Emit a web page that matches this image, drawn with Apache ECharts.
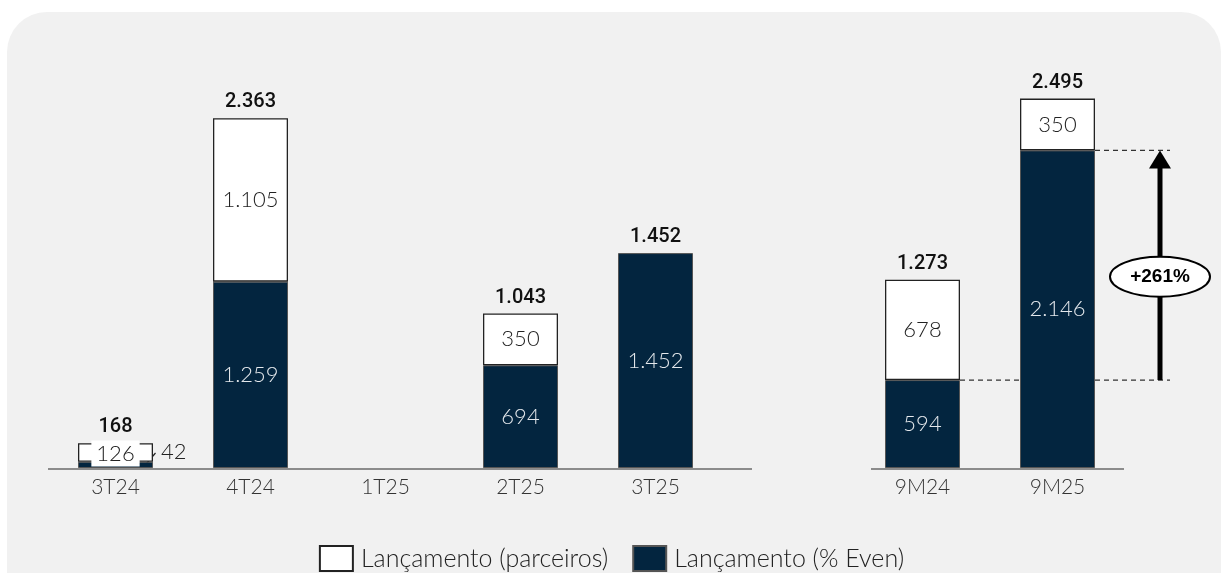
<!DOCTYPE html>
<html>
<head>
<meta charset="utf-8">
<script src="https://cdn.jsdelivr.net/npm/echarts@6/dist/echarts.min.js"></script>
<style>
html,body{margin:0;padding:0;background:#fff;}
#c{width:1223px;height:573px;}
</style>
</head>
<body>
<div id="c"></div>
<script>
// ---- data ----
const categoriesQ = ['3T24', '4T24', '1T25', '2T25', '3T25'];
const evenQ = [42, 1259, null, 694, 1452];
const parceirosQ = [126, 1105, null, 350, 0];
const totalQ = [168, 2363, null, 1043, 1452];

const categoriesY = ['9M24', '9M25'];
const evenY = [594, 2146];
const parceirosY = [678, 350];
const totalY = [1273, 2495];

const growthLabel = '+261%';
const seriesNames = ['Lançamento (parceiros)', 'Lançamento (% Even)'];

// ---- style ----
const NAVY = '#03253f';
const fmt = v => (v == null ? '' : Math.round(v).toString().replace(/\B(?=(\d{3})+(?!\d))/g, '.'));
const lightFont = 'Lato';
const BW = 75;

const chart = echarts.init(document.getElementById('c'));

function darkData(arr, isQ) {
  return arr.map((v, i) => {
    if (v == null) return '-';
    if (isQ && i === 0) {
      return { value: v, label: { show: true, position: 'right', distance: 8, offset: [0, -13], color: '#222', fontSize: 22 } };
    }
    return v;
  });
}
function whiteData(arr, isQ) {
  return arr.map((v, i) => {
    if (v == null) return '-';
    if (v === 0) return { value: 0, itemStyle: { borderWidth: 0 }, label: { show: false } };
    if (isQ && i === 0) {
      return { value: v, label: { show: true, position: 'inside', backgroundColor: '#fff', padding: [3, 5, 1, 5], offset: [0, 1] } };
    }
    return v;
  });
}

function mkSeries(idx, even, parc, total, isQ) {
  return [
    {
      name: seriesNames[1], type: 'bar', stack: 's' + idx, xAxisIndex: idx, yAxisIndex: idx,
      barWidth: BW, barGap: '-100%',
      itemStyle: { color: NAVY, borderColor: '#555', borderWidth: 1 },
      label: { show: true, position: 'inside', color: '#e4e8ec', fontSize: 22, fontFamily: lightFont, fontWeight: 300, formatter: p => fmt(p.value) },
      data: darkData(even, isQ), silent: true
    },
    {
      name: seriesNames[0], type: 'bar', stack: 's' + idx, xAxisIndex: idx, yAxisIndex: idx,
      barWidth: BW, barGap: '-100%',
      itemStyle: { color: '#ffffff', borderColor: '#222', borderWidth: 1.3 },
      label: { show: true, position: 'inside', color: '#222', fontSize: 22, fontFamily: lightFont, fontWeight: 300, formatter: p => fmt(p.value) },
      data: whiteData(parc, isQ), silent: true
    },
    {
      name: 'Total', type: 'bar', xAxisIndex: idx, yAxisIndex: idx,
      barWidth: BW, barGap: '-100%', z: 1,
      itemStyle: { color: 'rgba(0,0,0,0)', borderWidth: 0 },
      label: { show: true, position: 'top', distance: 6, color: '#111', fontSize: 20, fontFamily: 'Roboto', fontWeight: 500, formatter: p => fmt(p.value) },
      data: total.map(v => v == null ? '-' : v), silent: true
    }
  ];
}

const axisLabelStyle = { color: '#333', fontSize: 21, fontFamily: lightFont, fontWeight: 300, margin: 9 };

const option = {
  backgroundColor: '#ffffff',
  animation: false,
  grid: [
    { left: 48, width: 675, top: 24, bottom: 105 },
    { left: 855, width: 270, top: 24, bottom: 105 }
  ],
  xAxis: [
    { type: 'category', gridIndex: 0, data: categoriesQ, axisLine: { show: false }, axisTick: { show: false }, axisLabel: axisLabelStyle },
    { type: 'category', gridIndex: 1, data: categoriesY, axisLine: { show: false }, axisTick: { show: false }, axisLabel: axisLabelStyle }
  ],
  yAxis: [
    { type: 'value', gridIndex: 0, min: 0, max: 3000, show: false },
    { type: 'value', gridIndex: 1, min: 0, max: 3000, show: false }
  ],
  legend: {
    data: [seriesNames[0], seriesNames[1]],
    left: 'center', top: 540,
    icon: 'rect', itemWidth: 33, itemHeight: 25, itemGap: 24,
    textStyle: { color: '#222', fontSize: 25, fontFamily: lightFont, fontWeight: 300, padding: [0, 0, 0, 3] }
  },
  series: [].concat(mkSeries(0, evenQ, parceirosQ, totalQ, true), mkSeries(1, evenY, parceirosY, totalY, false))
};
chart.setOption(option);

// ---- decorations computed from the scales ----
const pQ = (c, v) => chart.convertToPixel({ xAxisIndex: 0, yAxisIndex: 0 }, [c, v]);
const pY = (c, v) => chart.convertToPixel({ xAxisIndex: 1, yAxisIndex: 1 }, [c, v]);

const base0 = pQ(categoriesQ[0], 0);
const baseY0 = pY(categoriesY[0], 0);
const firstTop = pQ(categoriesQ[0], evenQ[0]);

const lowPt = pY(categoriesY[0], evenY[0]);
const highPt = pY(categoriesY[1], evenY[1]);
const arrowX = highPt[0] + BW / 2 + 65;
const dashEnd = arrowX + 10;
const headH = 18, headW = 11;
const ellY = lowPt[1] - 0.45 * (lowPt[1] - highPt[1]);

chart.setOption({
  graphic: [
    { type: 'rect', z: -10, silent: true, shape: { x: 7, y: 12, width: 1216 - 7 + 5, height: 573, r: [40, 40, 0, 0] }, style: { fill: '#f1f1f1' } },
    // baselines
    { type: 'line', silent: true, shape: { x1: 48, y1: base0[1] + 1, x2: 752, y2: base0[1] + 1 }, style: { stroke: '#8c8c8c', lineWidth: 2 } },
    { type: 'line', silent: true, shape: { x1: 871, y1: baseY0[1] + 1, x2: 1124, y2: baseY0[1] + 1 }, style: { stroke: '#8c8c8c', lineWidth: 2 } },
    // leader line for small label
    { type: 'line', silent: true, shape: { x1: firstTop[0] + 28, y1: base0[1] - 1, x2: firstTop[0] + 40, y2: base0[1] - 15 }, style: { stroke: '#222', lineWidth: 1.2 } },
    // dashed reference lines
    { type: 'line', silent: true, shape: { x1: lowPt[0] + BW / 2, y1: lowPt[1], x2: dashEnd, y2: lowPt[1] }, style: { stroke: '#333', lineWidth: 1.2, lineDash: [5, 4] } },
    { type: 'line', silent: true, shape: { x1: highPt[0] + BW / 2, y1: highPt[1], x2: dashEnd, y2: highPt[1] }, style: { stroke: '#333', lineWidth: 1.2, lineDash: [5, 4] } },
    // arrow
    { type: 'line', silent: true, shape: { x1: arrowX, y1: lowPt[1], x2: arrowX, y2: highPt[1] + headH - 2 }, style: { stroke: '#000', lineWidth: 5 } },
    { type: 'polygon', silent: true, shape: { points: [[arrowX - headW, highPt[1] + headH], [arrowX + headW, highPt[1] + headH], [arrowX, highPt[1]]] }, style: { fill: '#000' } },
    { type: 'ellipse', silent: true, shape: { cx: arrowX, cy: ellY, rx: 50, ry: 20 }, style: { fill: '#fff', stroke: '#000', lineWidth: 2 } },
    { type: 'text', silent: true, x: arrowX, y: ellY, style: { text: growthLabel, font: 'bold 19px "Liberation Sans", Arial', fill: '#000', align: 'center', verticalAlign: 'middle' } }
  ]
});
</script>
</body>
</html>
